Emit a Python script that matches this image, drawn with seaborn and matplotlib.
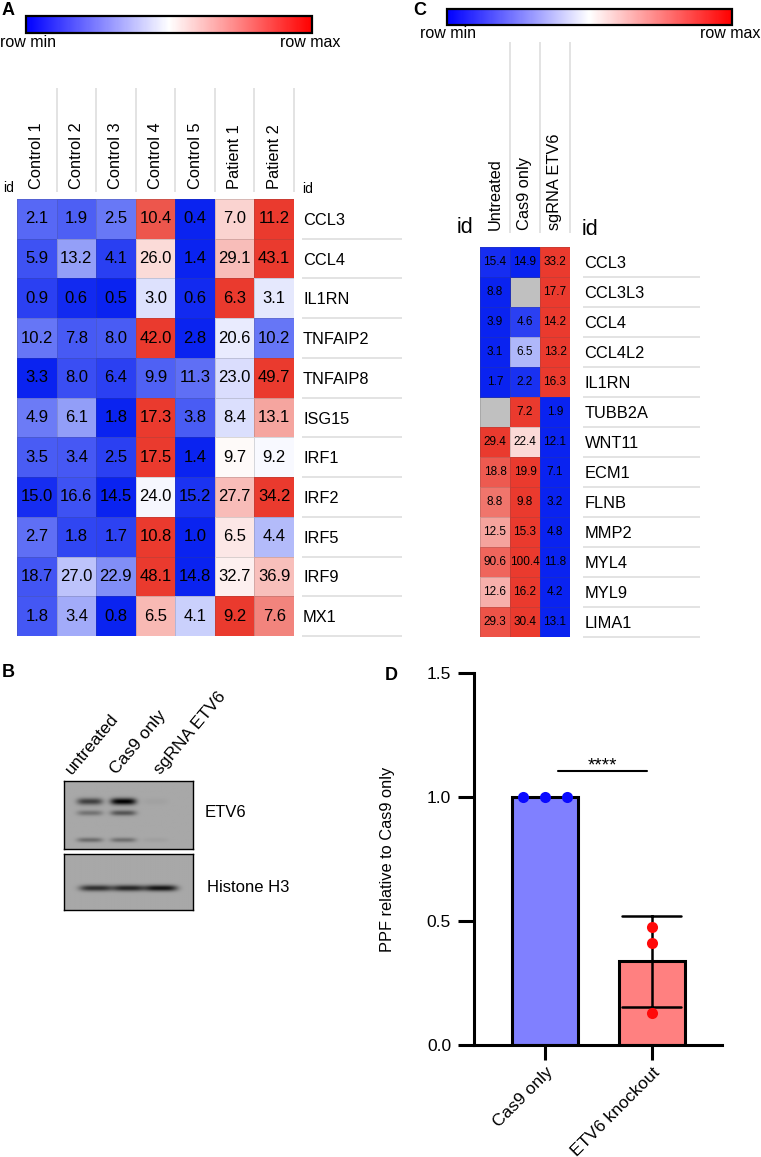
import numpy as np
import pandas as pd
import matplotlib
matplotlib.use("Agg")
import matplotlib.pyplot as plt
from matplotlib.colors import LinearSegmentedColormap, Normalize
from matplotlib.cm import ScalarMappable
import seaborn as sns

# ---------------- data ----------------
# Panel A
genes_A = ["CCL3", "CCL4", "IL1RN", "TNFAIP2", "TNFAIP8", "ISG15", "IRF1", "IRF2", "IRF5", "IRF9", "MX1"]
samples_A = ["Control 1", "Control 2", "Control 3", "Control 4", "Control 5", "Patient 1", "Patient 2"]
control1 = [2.1, 5.9, 0.9, 10.2, 3.3, 4.9, 3.5, 15.0, 2.7, 18.7, 1.8]
control2 = [1.9, 13.2, 0.6, 7.8, 8.0, 6.1, 3.4, 16.6, 1.8, 27.0, 3.4]
control3 = [2.5, 4.1, 0.5, 8.0, 6.4, 1.8, 2.5, 14.5, 1.7, 22.9, 0.8]
control4 = [10.4, 26.0, 3.0, 42.0, 9.9, 17.3, 17.5, 24.0, 10.8, 48.1, 6.5]
control5 = [0.4, 1.4, 0.6, 2.8, 11.3, 3.8, 1.4, 15.2, 1.0, 14.8, 4.1]
patient1 = [7.0, 29.1, 6.3, 20.6, 23.0, 8.4, 9.7, 27.7, 6.5, 32.7, 9.2]
patient2 = [11.2, 43.1, 3.1, 10.2, 49.7, 13.1, 9.2, 34.2, 4.4, 36.9, 7.6]

# Panel C
genes_C = ["CCL3", "CCL3L3", "CCL4", "CCL4L2", "IL1RN", "TUBB2A", "WNT11", "ECM1", "FLNB", "MMP2", "MYL4", "MYL9", "LIMA1"]
samples_C = ["Untreated", "Cas9 only", "sgRNA ETV6"]
untreated = [15.4, 8.8, 3.9, 3.1, 1.7, np.nan, 29.4, 18.8, 8.8, 12.5, 90.6, 12.6, 29.3]
cas9_only = [14.9, np.nan, 4.6, 6.5, 2.2, 7.2, 22.4, 19.9, 9.8, 15.3, 100.4, 16.2, 30.4]
sgrna_etv6 = [33.2, 17.7, 14.2, 13.2, 16.3, 1.9, 12.1, 7.1, 3.2, 4.8, 11.8, 4.2, 13.1]

# Panel B (western blot band intensities per lane: untreated, Cas9 only, sgRNA ETV6)
blot_lanes = ["untreated", "Cas9 only", "sgRNA ETV6"]
etv6_upper = [0.62, 1.00, 0.04]
etv6_middle = [0.32, 0.50, 0.00]
etv6_lower = [0.36, 0.34, 0.05]
h3_band = [0.72, 0.78, 0.88]

# Panel D
groups_D = ["Cas9 only", "ETV6 knockout"]
ppf_cas9 = [1.0, 1.0, 1.0]
ppf_ko = [0.475, 0.41, 0.13]

# ---------------- style ----------------
sns.set_style("white")
plt.rcParams["font.family"] = ["Liberation Sans", "DejaVu Sans"]
for k in ["text.color", "axes.labelcolor", "xtick.color", "ytick.color", "axes.edgecolor"]:
    plt.rcParams[k] = "black"

W, H = 761, 1157
fig = plt.figure(figsize=(W / 100, H / 100), dpi=100)


def ax_px(x0, y0, x1, y1, **kw):
    return fig.add_axes([x0 / W, 1 - y1 / H, (x1 - x0) / W, (y1 - y0) / H], **kw)


def txt(x, y, s, **kw):
    return fig.text(x / W, 1 - y / H, s, **kw)


cell_cmap = LinearSegmentedColormap.from_list("cell", ["#0A23F0", "#FFFFFF", "#EA3A2E"])
bar_cmap = LinearSegmentedColormap.from_list("bar", ["#0000FF", "#FFFFFF", "#FF0000"])
grid_col = "#dedede"


def row_norm(df):
    mn = df.min(axis=1)
    mx = df.max(axis=1)
    return df.sub(mn, axis=0).div(mx - mn, axis=0)


def colorbar(x0, y0, x1, y1):
    cax = ax_px(x0, y0, x1, y1)
    cb = fig.colorbar(ScalarMappable(norm=Normalize(0, 1), cmap=bar_cmap), cax=cax, orientation="horizontal")
    cb.set_ticks([])
    cb.outline.set_linewidth(1.6)
    cb.outline.set_edgecolor("black")
    return cb


# ---------------- Panel A ----------------
dfA = pd.DataFrame(dict(zip(samples_A, [control1, control2, control3, control4, control5, patient1, patient2])),
                   index=genes_A)
txt(2, 2, "A", ha="left", va="top", fontsize=13, weight="bold")
colorbar(26, 16, 312, 33)
txt(0, 47, "row min", ha="left", va="baseline", fontsize=11.5)
txt(340, 47, "row max", ha="right", va="baseline", fontsize=11.5)

axA = ax_px(17, 199, 294, 636)
sns.heatmap(row_norm(dfA), ax=axA, cmap=cell_cmap, vmin=0, vmax=1, annot=dfA.values, fmt=".1f",
            annot_kws={"color": "black", "fontsize": 12}, cbar=False,
            linewidths=0.4, linecolor=(0.3, 0.3, 0.3, 0.2))
axA.xaxis.tick_top()
axA.set_xticks(np.arange(len(samples_A)) + 0.5)
axA.set_xticklabels(samples_A, rotation=90, fontsize=11.8)
axA.yaxis.tick_right()
axA.set_yticks(np.arange(len(genes_A)) + 0.5)
axA.set_yticklabels(genes_A, rotation=0, fontsize=11.8)
axA.tick_params(axis="both", length=0)
axA.tick_params(axis="x", pad=7)
axA.tick_params(axis="y", pad=6.5)
axA.set_xlabel("")
axA.set_ylabel("")

hdrA = ax_px(17, 88, 294, 192)
hdrA.set_xlim(0, len(samples_A))
hdrA.set_ylim(0, 1)
hdrA.vlines(np.arange(1, len(samples_A) + 1), 0, 1, color=grid_col, lw=1.2, clip_on=False)
hdrA.axis("off")
hdrA.set_zorder(-1)

sepA = ax_px(302, 199, 402, 636)
sepA.set_xlim(0, 1)
sepA.set_ylim(len(genes_A), 0)
sepA.hlines(np.arange(1, len(genes_A) + 1), 0, 1, color=grid_col, lw=1.2, clip_on=False)
sepA.axis("off")
txt(3, 192, "id", ha="left", va="baseline", fontsize=10)
txt(302, 193, "id", ha="left", va="baseline", fontsize=10)

# ---------------- Panel C ----------------
dfC = pd.DataFrame(dict(zip(samples_C, [untreated, cas9_only, sgrna_etv6])), index=genes_C)
txt(413, 2, "C", ha="left", va="top", fontsize=13, weight="bold")
colorbar(447, 9, 732, 25)
txt(420, 38, "row min", ha="left", va="baseline", fontsize=11.5)
txt(760, 38, "row max", ha="right", va="baseline", fontsize=11.5)

axC = ax_px(480, 247, 570, 637)
sns.heatmap(row_norm(dfC), ax=axC, cmap=cell_cmap, vmin=0, vmax=1, annot=dfC.values, fmt=".1f",
            annot_kws={"color": "black", "fontsize": 8.5}, cbar=False,
            linewidths=0.4, linecolor=(0.3, 0.3, 0.3, 0.2))
axC.set_facecolor("#C0C0C0")
axC.xaxis.tick_top()
axC.set_xticks(np.arange(len(samples_C)) + 0.5)
axC.set_xticklabels(samples_C, rotation=90, fontsize=11.8)
axC.yaxis.tick_right()
axC.set_yticks(np.arange(len(genes_C)) + 0.5)
axC.set_yticklabels(genes_C, rotation=0, fontsize=11.8)
axC.tick_params(axis="both", length=0)
axC.tick_params(axis="x", pad=12)
axC.tick_params(axis="y", pad=10.5)
axC.set_xlabel("")
axC.set_ylabel("")

hdrC = ax_px(480, 42, 570, 233)
hdrC.set_xlim(0, len(samples_C))
hdrC.set_ylim(0, 1)
hdrC.vlines(np.arange(1, len(samples_C) + 1), 0, 1, color=grid_col, lw=1.2, clip_on=False)
hdrC.axis("off")
hdrC.set_zorder(-1)

sepC = ax_px(583, 247, 700, 637)
sepC.set_xlim(0, 1)
sepC.set_ylim(len(genes_C), 0)
sepC.hlines(np.arange(1, len(genes_C) + 1), 0, 1, color=grid_col, lw=1.2, clip_on=False)
sepC.axis("off")
txt(457, 233, "id", ha="left", va="baseline", fontsize=15.5)
txt(582, 235, "id", ha="left", va="baseline", fontsize=15.5)

# ---------------- Panel B (western blot) ----------------
txt(2, 664, "B", ha="left", va="top", fontsize=13, weight="bold")


def render_blot(ax, lane_x, half_w, bands, bg=0.66):
    nx, ny = 260, 140
    xs = np.linspace(0, 1, nx)
    ys = np.linspace(0, 1, ny)
    X, Y = np.meshgrid(xs, ys)
    img = np.full_like(X, bg)
    for yc, sig, inten in bands:
        for cx, hw, a in zip(lane_x, half_w, inten):
            img -= a * 0.66 * np.exp(-((X - cx) / hw) ** 4) * np.exp(-((Y - yc) / sig) ** 2)
    img = np.clip(img, 0, 1)
    ax.imshow(img, cmap="gray", vmin=0, vmax=1, aspect="auto", extent=[0, 1, 1, 0], interpolation="bilinear")
    ax.set_xticks([])
    ax.set_yticks([])
    for s in ax.spines.values():
        s.set_visible(True)
        s.set_linewidth(1.0)
        s.set_edgecolor("black")


blot1 = ax_px(64, 781, 193, 849)
render_blot(blot1, [0.2, 0.46, 0.71], [0.1, 0.1, 0.1],
            [(0.30, 0.05, etv6_upper), (0.47, 0.04, etv6_middle), (0.87, 0.035, etv6_lower)])
blot2 = ax_px(64, 854, 193, 910)
render_blot(blot2, [0.25, 0.5, 0.75], [0.13, 0.12, 0.13], [(0.61, 0.055, h3_band)])

for lx, lab in zip([72, 117, 161], blot_lanes):
    txt(lx, 775, lab, ha="left", va="baseline", rotation=50, rotation_mode="anchor", fontsize=12.5)
txt(205, 817, "ETV6", ha="left", va="baseline", fontsize=12)
txt(207, 892, "Histone H3", ha="left", va="baseline", fontsize=12)

# ---------------- Panel D ----------------
txt(385, 667, "D", ha="left", va="top", fontsize=13, weight="bold")
dfD = pd.DataFrame({"group": [groups_D[0]] * len(ppf_cas9) + [groups_D[1]] * len(ppf_ko),
                    "ppf": ppf_cas9 + ppf_ko})
axD = ax_px(474, 673, 722, 1045)
sns.barplot(data=dfD, x="group", y="ppf", hue="group", order=groups_D, hue_order=groups_D,
            palette=["#8080FF", "#FF8080"], saturation=1, errorbar="sd", capsize=0.55, width=0.62,
            err_kws={"linewidth": 1.8, "color": "black"}, edgecolor="black", linewidth=2.2,
            legend=False, ax=axD)

# individual points (tied values spread horizontally)
dot_cols = ["#0A0AFF", "#FF0A0A"]
for gi, g in enumerate(groups_D):
    vals = dfD.loc[dfD.group == g, "ppf"].to_numpy()
    xs = np.zeros(len(vals)) + gi
    uniq, counts = np.unique(vals, return_counts=True)
    for u, c in zip(uniq, counts):
        idx = np.where(vals == u)[0]
        if c > 1:
            xs[idx] = gi + (np.arange(c) - (c - 1) / 2) * 0.21
    axD.scatter(xs, vals, s=64, color=dot_cols[gi], zorder=6, linewidths=0, clip_on=False)

axD.set_xlim(-0.667, 1.66)
axD.set_ylim(0, 1.5)
axD.set_yticks([0, 0.5, 1.0, 1.5])
axD.set_yticklabels(["0.0", "0.5", "1.0", "1.5"])
for s in ["top", "right"]:
    axD.spines[s].set_visible(False)
for s in ["left", "bottom"]:
    axD.spines[s].set_linewidth(2.2)
    axD.spines[s].set_edgecolor("black")
axD.tick_params(axis="y", length=11.5, width=2.2, labelsize=12.5, pad=5, left=True, direction="out")
axD.tick_params(axis="x", length=11, width=2.2, labelsize=12.5, pad=3, bottom=True, direction="out")
axD.set_xticks([0, 1])
axD.set_xticklabels(groups_D, rotation=45, ha="right", va="top", rotation_mode="anchor")
axD.set_xlabel("")
axD.set_ylabel("PPF relative to Cas9 only", fontsize=11.8)
axD.yaxis.set_label_coords(-0.318, 0.5)
axD.plot([0.12, 0.96], [1.105, 1.105], color="black", lw=1.5)
axD.text(0.54, 1.105, "****", ha="center", va="baseline", fontsize=13.5)

fig.savefig("out.png", dpi=100)
